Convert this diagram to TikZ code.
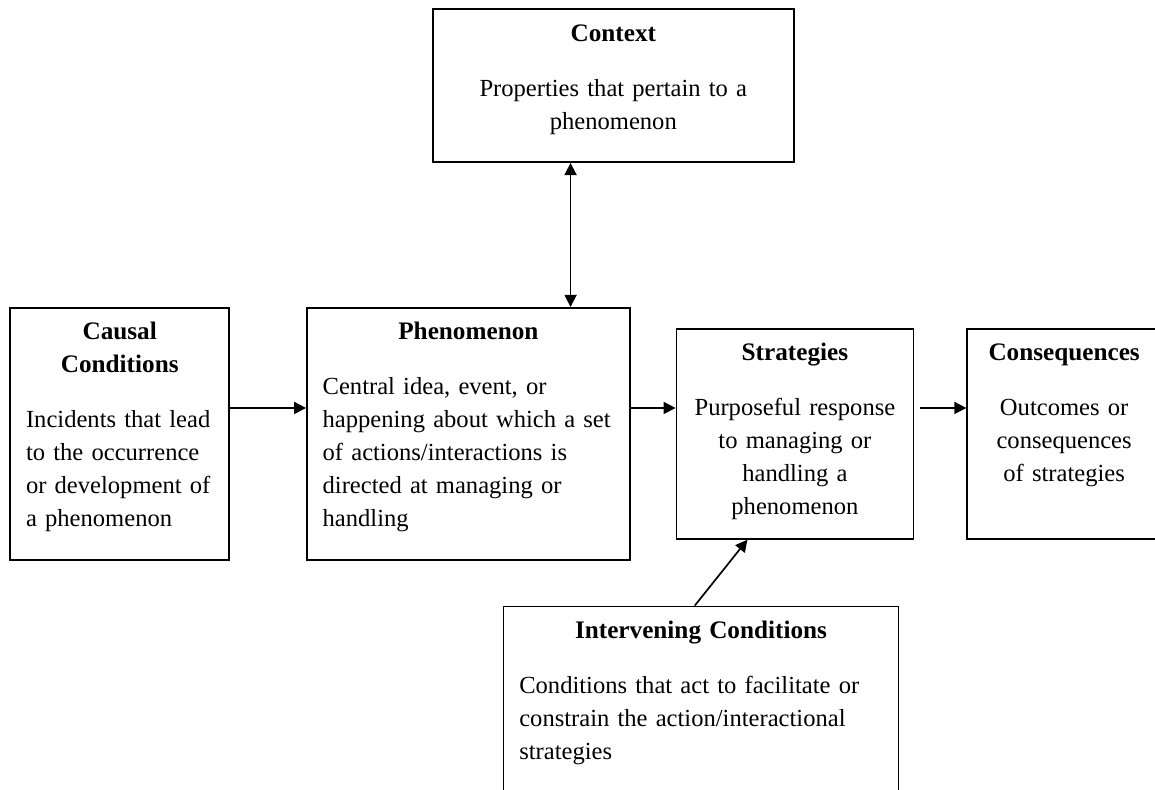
\documentclass[tikz,border=0pt]{standalone}
\usepackage{fontspec}
\setmainfont{Liberation Serif}
\usetikzlibrary{arrows.meta,positioning,calc}
\newcommand{\boxhead}[1]{{\centering\fontsize{12pt}{15.7pt}\selectfont\bfseries #1\par}\vspace{10.5pt}}

\begin{document}
\begin{tikzpicture}[
    node distance=2cm,
    box/.style={rectangle, draw, line width=0.8pt, font=\fontsize{11.7pt}{15.7pt}\selectfont, inner xsep=3pt, inner ysep=0pt, text height=15.2pt, execute at end node={\endgraf}},
    leftbox/.style={box, execute at begin node={\raggedright\leftskip=4.5pt}},
    midbox/.style={box, execute at begin node={\centering}},
    arrow/.style={-{Triangle[length=5.7pt,width=5.7pt]}, line width=0.8pt},
    dblarrow/.style={{Triangle[length=5.7pt,width=5.7pt]}-{Triangle[length=5.7pt,width=5.7pt]}, line width=0.8pt}
]
\useasboundingbox (0,0) rectangle (549.8pt,-375.6pt);

% Central row
\node[leftbox, anchor=north west, text width=147.7pt, text depth=104.8pt] (phen) at (145.7pt,-146.1pt) {\boxhead{Phenomenon}Central idea, event, or\\happening about which a set\\of actions/interactions is\\directed at managing or\\handling};
\node[leftbox, left=36.2pt of phen, text width=98.2pt, text depth=104.8pt] (causal) {\boxhead{Causal\\Conditions}Incidents that lead\\to the occurrence\\or development of\\a phenomenon};
\node[midbox, right=21.4pt of phen, text width=106.8pt, text depth=84.8pt] (strat) {\boxhead{Strategies}Purposeful response\\to managing or\\handling a\\phenomenon};
\node[midbox, right=24.8pt of strat, text width=86.3pt, text depth=84.8pt] (cons) {\boxhead{Consequences}Outcomes or\\consequences\\of strategies};

% Context and intervening conditions
\node[midbox, above=68.5pt of phen, xshift=69pt, text width=165.8pt, text depth=57.6pt] (ctx) {\boxhead{Context}Properties that pertain to a\\phenomenon};
\node[leftbox, below=31.4pt of strat, xshift=-44.7pt, text width=182pt, text depth=84.8pt] (interv) {\boxhead{Intervening Conditions}Conditions that act to facilitate or\\constrain the action/interactional\\strategies};

% Arrows
\coordinate (flow) at ([yshift=-48.1pt]causal.north east);
\coordinate (link) at ([xshift=-28.6pt]phen.north east);
\draw[arrow] (flow) -- (flow -| phen.west);
\draw[arrow] (flow -| phen.east) -- (flow -| strat.west);
\draw[arrow, shorten <=2.5pt] (flow -| strat.east) -- (flow -| cons.west);
\draw[dblarrow] (ctx.south -| link) -- (link);
\draw[arrow] ([xshift=-3pt]interv.north) -- ([xshift=-22.6pt]strat.south);

\end{tikzpicture}
\end{document}
